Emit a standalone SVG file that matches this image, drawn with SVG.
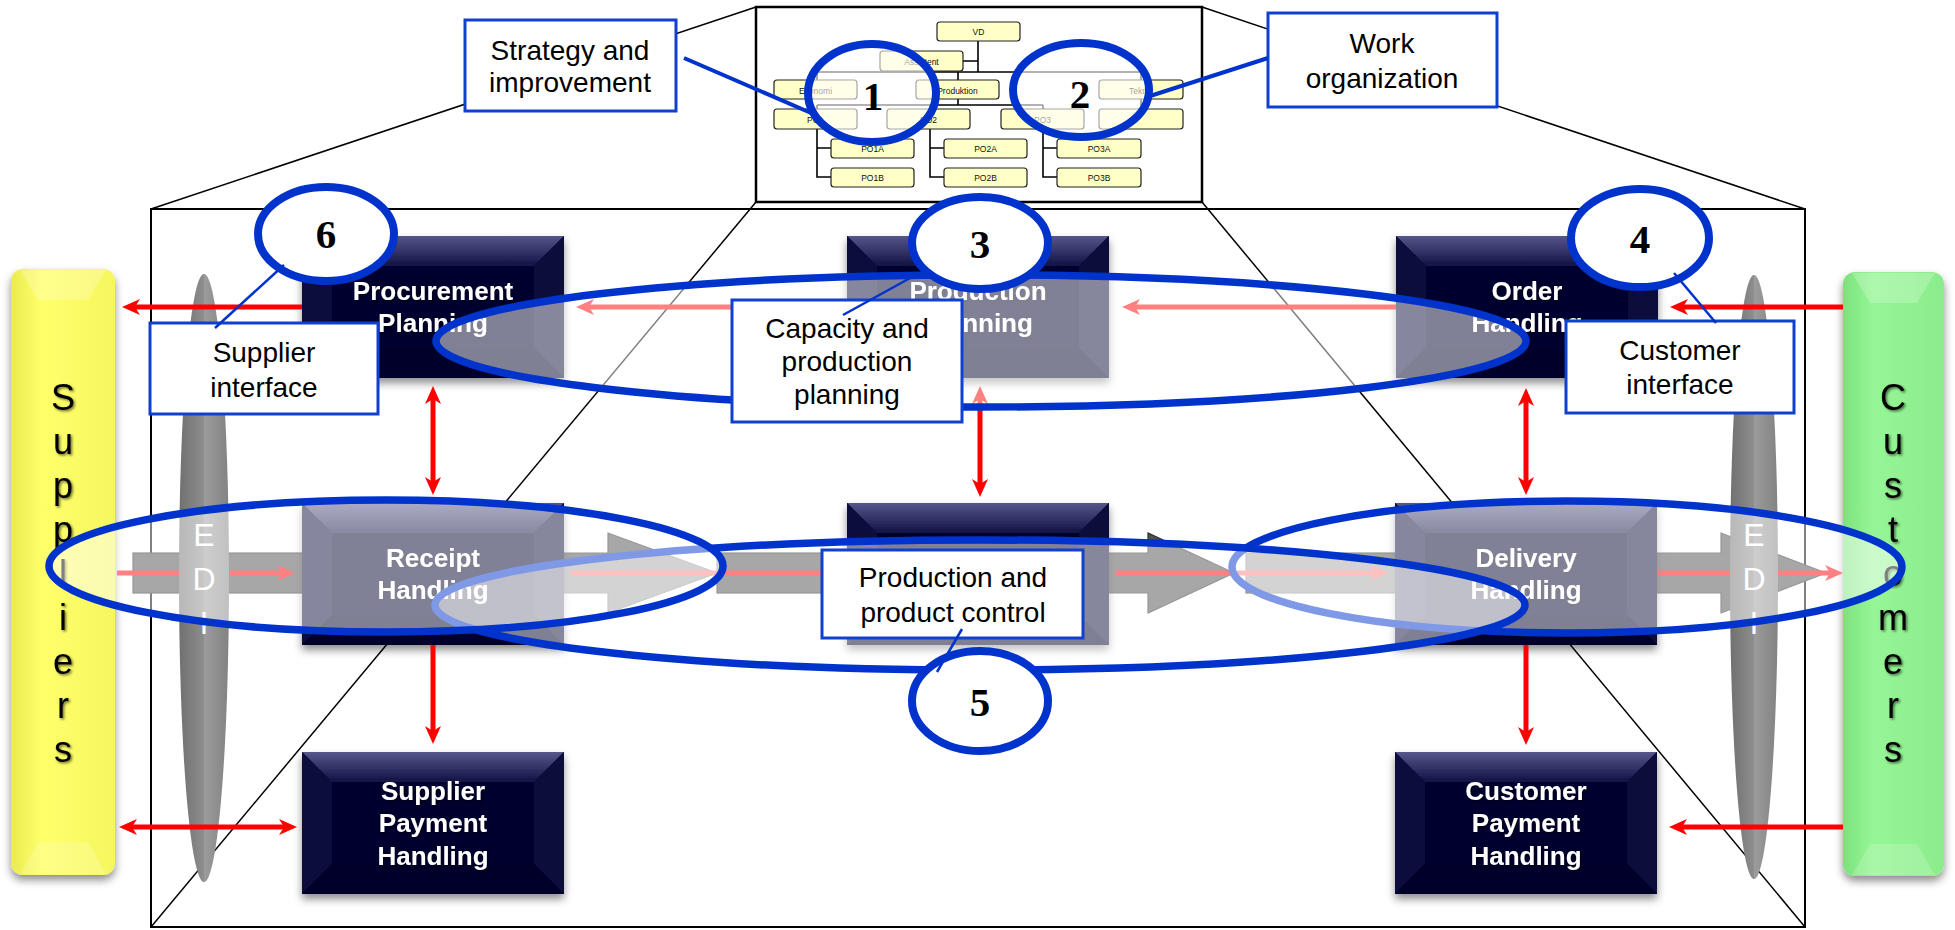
<svg xmlns="http://www.w3.org/2000/svg" width="1955" height="930" viewBox="0 0 1955 930">
<defs>
<style>
.frame{fill:none;stroke:#000;stroke-width:2}
.thin{fill:none;stroke:#000;stroke-width:1.5}
.ob{fill:#FFFFC8;stroke:#222;stroke-width:1.2}
.ot{font-family:'Liberation Sans',Arial,sans-serif;font-size:8.5px;text-anchor:middle;fill:#111}
.ol{fill:none;stroke:#000;stroke-width:1.6}
.pt{font-family:'Liberation Sans',Arial,sans-serif;font-weight:bold;font-size:26px;fill:#fff;text-anchor:middle}
.bar{fill:#4F4F4F;stroke:#2E2E2E;stroke-width:1.2}
.red{fill:none;stroke:#FF0000;stroke-width:5}
.big{fill:#fff;fill-opacity:0.5;stroke:#0033CC;stroke-width:7.5}
.sm{fill:#fff;fill-opacity:0.6;stroke:#0033CC;stroke-width:8}
.num{fill:#fff;stroke:#0033CC;stroke-width:8}
.nt{font-family:'Liberation Serif','Times New Roman',serif;font-weight:bold;font-size:41px;text-anchor:middle;fill:#000}
.cb{fill:#fff;stroke:#1040D0;stroke-width:3}
.ct{font-family:'Liberation Sans',Arial,sans-serif;font-size:28px;text-anchor:middle;fill:#000}
.cl{fill:none;stroke:#0033CC;stroke-width:2.5}
.clb{fill:none;stroke:#0033CC;stroke-width:4}
.vt{font-family:'Liberation Sans',Arial,sans-serif;font-size:36px;text-anchor:middle;fill:#000}
.edi{font-family:'Liberation Sans',Arial,sans-serif;font-size:32px;text-anchor:middle;fill:#fff}
</style>
<linearGradient id="gTop" x1="0" y1="0" x2="0" y2="1">
<stop offset="0" stop-color="#56568C"/>
<stop offset="1" stop-color="#111144"/>
</linearGradient>
<linearGradient id="gYel" x1="0" y1="0" x2="1" y2="0">
<stop offset="0" stop-color="#EAEA50"/>
<stop offset="0.3" stop-color="#FFFF6A"/>
<stop offset="1" stop-color="#F6F660"/>
</linearGradient>
<linearGradient id="gGrn" x1="0" y1="0" x2="1" y2="0">
<stop offset="0" stop-color="#7CE27C"/>
<stop offset="0.3" stop-color="#96F696"/>
<stop offset="1" stop-color="#8AEC8A"/>
</linearGradient>
<linearGradient id="gLens" x1="0" y1="0" x2="1" y2="0">
<stop offset="0" stop-color="#707070"/>
<stop offset="0.5" stop-color="#8E8E8E"/>
<stop offset="0.5" stop-color="#9C9C9C"/>
<stop offset="1" stop-color="#828282"/>
</linearGradient>
<filter id="sh" x="-10%" y="-10%" width="120%" height="130%">
<feDropShadow dx="0" dy="5" stdDeviation="4" flood-color="#000" flood-opacity="0.45"/>
</filter>
<filter id="ts" x="-20%" y="-20%" width="140%" height="140%">
<feDropShadow dx="1.5" dy="1.5" stdDeviation="1" flood-color="#000" flood-opacity="0.55"/>
</filter>
<marker id="ah" markerUnits="userSpaceOnUse" markerWidth="18" markerHeight="16" viewBox="0 0 18 16" refX="11" refY="8" orient="auto-start-reverse">
<path d="M0,0 L18,8 L0,16 L5,8 z" fill="#FF0000"/>
</marker>
<g id="pb">
<rect width="262" height="142" fill="#06062E"/>
<polygon points="0,0 262,0 232,30 30,30" fill="url(#gTop)"/>
<polygon points="0,0 30,30 30,112 0,142" fill="#0B0B3C"/>
<polygon points="262,0 262,142 232,112 232,30" fill="#09093A"/>
<polygon points="0,142 30,112 232,112 262,142" fill="#04042A"/>
</g>
</defs>

<rect width="1955" height="930" fill="#fff"/>

<g id="frame">
<rect x="151" y="209" width="1654" height="718" class="frame"/>
<line x1="151" y1="209" x2="756" y2="7" class="thin"/>
<line x1="1202" y1="7" x2="1805" y2="209" class="thin"/>
<line x1="756" y1="202" x2="151" y2="927" class="thin"/>
<line x1="1202" y1="202" x2="1805" y2="927" class="thin"/>
<rect x="756" y="7" width="446" height="195" fill="#fff" stroke="#000" stroke-width="2.5"/>
</g>

<g id="orgchart">
<path class="ol" d="M978,41V72M963,61H978M817,72H1141M817,72V80M958,72V80M1141,72V80M958,99V105M817,105H1043M817,105V109M930,105V109M1043,105V109M1141,99V109M817,129V177H831M817,148H831M930,129V177H944M930,148H944M1043,129V177H1057M1043,148H1057"/>
<rect class="ob" x="937" y="22" width="83" height="19" rx="3"/><text class="ot" x="978.5" y="35">VD</text>
<rect class="ob" x="880" y="51" width="83" height="20" rx="3"/><text class="ot" x="921.5" y="64.5">Assistent</text>
<rect class="ob" x="774" y="80" width="83" height="19" rx="3"/><text class="ot" x="815.5" y="93.5">Ekonomi</text>
<rect class="ob" x="916" y="80" width="83" height="19" rx="3"/><text class="ot" x="957.5" y="93.5">Produktion</text>
<rect class="ob" x="1099" y="80" width="84" height="19" rx="3"/><text class="ot" x="1141" y="93.5">Teknik</text>
<rect class="ob" x="774" y="109" width="83" height="20" rx="3"/><text class="ot" x="815.5" y="122.5">PO1</text>
<rect class="ob" x="887" y="109" width="83" height="20" rx="3"/><text class="ot" x="928.5" y="122.5">PO2</text>
<rect class="ob" x="1001" y="109" width="83" height="20" rx="3"/><text class="ot" x="1042.5" y="122.5">PO3</text>
<rect class="ob" x="1099" y="109" width="84" height="20" rx="3"/>
<rect class="ob" x="831" y="139" width="83" height="19" rx="3"/><text class="ot" x="872.5" y="152">PO1A</text>
<rect class="ob" x="944" y="139" width="83" height="19" rx="3"/><text class="ot" x="985.5" y="152">PO2A</text>
<rect class="ob" x="1057" y="139" width="84" height="19" rx="3"/><text class="ot" x="1099" y="152">PO3A</text>
<rect class="ob" x="831" y="168" width="83" height="19" rx="3"/><text class="ot" x="872.5" y="181">PO1B</text>
<rect class="ob" x="944" y="168" width="83" height="19" rx="3"/><text class="ot" x="985.5" y="181">PO2B</text>
<rect class="ob" x="1057" y="168" width="84" height="19" rx="3"/><text class="ot" x="1099" y="181">PO3B</text>
</g>

<g id="suppliers">
<rect x="11" y="269" width="104" height="606" rx="12" fill="url(#gYel)" filter="url(#sh)"/>
<polygon points="20,270 106,270 88,300 38,300" fill="#fff" fill-opacity="0.22"/>
<polygon points="38,842 88,842 106,874 20,874" fill="#fff" fill-opacity="0.18"/>
<text class="vt" filter="url(#ts)"><tspan x="63" y="410">S</tspan><tspan x="63" y="454">u</tspan><tspan x="63" y="498">p</tspan><tspan x="63" y="542">p</tspan><tspan x="63" y="586">l</tspan><tspan x="63" y="630">i</tspan><tspan x="63" y="674">e</tspan><tspan x="63" y="718">r</tspan><tspan x="63" y="762">s</tspan></text>
</g>

<g id="customers">
<rect x="1843" y="272" width="101" height="604" rx="12" fill="url(#gGrn)" filter="url(#sh)"/>
<polygon points="1852,273 1935,273 1917,303 1870,303" fill="#fff" fill-opacity="0.22"/>
<polygon points="1870,844 1917,844 1935,875 1852,875" fill="#fff" fill-opacity="0.18"/>
<text class="vt" filter="url(#ts)"><tspan x="1893" y="410">C</tspan><tspan x="1893" y="454">u</tspan><tspan x="1893" y="498">s</tspan><tspan x="1893" y="542">t</tspan><tspan x="1893" y="586">o</tspan><tspan x="1893" y="630">m</tspan><tspan x="1893" y="674">e</tspan><tspan x="1893" y="718">r</tspan><tspan x="1893" y="762">s</tspan></text>
</g>

<g id="flow">
<rect class="bar" x="133" y="553" width="175" height="40"/>
<polygon class="bar" points="560,553 608,553 608,533 717,573 608,613 608,593 560,593"/>
<rect class="bar" x="717" y="553" width="135" height="40"/>
<polygon class="bar" points="1105,553 1148,553 1148,533 1234,573 1148,613 1148,593 1105,593"/>
<rect class="bar" x="1246" y="553" width="154" height="40"/>
<polygon class="bar" points="1652,553 1721,553 1721,533 1826,573 1721,613 1721,593 1652,593"/>
<line class="red" x1="117" y1="573" x2="288" y2="573" marker-end="url(#ah)"/>
<line class="red" x1="571" y1="573" x2="833" y2="573" marker-end="url(#ah)"/>
<line class="red" x1="1116" y1="573" x2="1381" y2="573" marker-end="url(#ah)"/>
<line class="red" x1="1657" y1="573" x2="1836" y2="573" marker-end="url(#ah)"/>
</g>

<g id="edi-left">
<ellipse cx="204" cy="578" rx="25" ry="304" fill="url(#gLens)"/>
<text class="edi"><tspan x="204" y="546">E</tspan><tspan x="204" y="590">D</tspan><tspan x="204" y="634">I</tspan></text>
</g>
<g id="edi-right">
<ellipse cx="1754" cy="577" rx="24" ry="302" fill="url(#gLens)"/>
<text class="edi"><tspan x="1754" y="546">E</tspan><tspan x="1754" y="590">D</tspan><tspan x="1754" y="634">I</tspan></text>
</g>

<g id="procurement-planning">
<use href="#pb" x="302" y="236" filter="url(#sh)"/>
<text class="pt" filter="url(#ts)"><tspan x="433" y="300">Procurement</tspan><tspan x="433" y="332">Planning</tspan></text>
</g>
<g id="production-planning">
<use href="#pb" x="847" y="236" filter="url(#sh)"/>
<text class="pt" filter="url(#ts)"><tspan x="978" y="300">Production</tspan><tspan x="978" y="332">Planning</tspan></text>
</g>
<g id="order-handling">
<use href="#pb" x="1396" y="236" filter="url(#sh)"/>
<text class="pt" filter="url(#ts)"><tspan x="1527" y="300">Order</tspan><tspan x="1527" y="332">Handling</tspan></text>
</g>
<g id="receipt-handling">
<use href="#pb" x="302" y="503" filter="url(#sh)"/>
<text class="pt" filter="url(#ts)"><tspan x="433" y="567">Receipt</tspan><tspan x="433" y="599">Handling</tspan></text>
</g>
<g id="production-handling">
<use href="#pb" x="847" y="503" filter="url(#sh)"/>
</g>
<g id="delivery-handling">
<use href="#pb" x="1395" y="503" filter="url(#sh)"/>
<text class="pt" filter="url(#ts)"><tspan x="1526" y="567">Delivery</tspan><tspan x="1526" y="599">Handling</tspan></text>
</g>
<g id="supplier-payment-handling">
<use href="#pb" x="302" y="752" filter="url(#sh)"/>
<text class="pt" filter="url(#ts)"><tspan x="433" y="800">Supplier</tspan><tspan x="433" y="832">Payment</tspan><tspan x="433" y="865">Handling</tspan></text>
</g>
<g id="customer-payment-handling">
<use href="#pb" x="1395" y="752" filter="url(#sh)"/>
<text class="pt" filter="url(#ts)"><tspan x="1526" y="800">Customer</tspan><tspan x="1526" y="832">Payment</tspan><tspan x="1526" y="865">Handling</tspan></text>
</g>

<g id="connectors">
<line class="red" x1="302" y1="307" x2="129" y2="307" marker-end="url(#ah)"/>
<line class="red" x1="433" y1="393" x2="433" y2="488" marker-start="url(#ah)" marker-end="url(#ah)"/>
<line class="red" x1="433" y1="645" x2="433" y2="737" marker-end="url(#ah)"/>
<line class="red" x1="126" y1="827" x2="290" y2="827" marker-start="url(#ah)" marker-end="url(#ah)"/>
<line class="red" x1="847" y1="307" x2="583" y2="307" marker-end="url(#ah)"/>
<line class="red" x1="1396" y1="307" x2="1129" y2="307" marker-end="url(#ah)"/>
<line class="red" x1="980" y1="393" x2="980" y2="490" marker-start="url(#ah)" marker-end="url(#ah)"/>
<line class="red" x1="1843" y1="307" x2="1677" y2="307" marker-end="url(#ah)"/>
<line class="red" x1="1526" y1="395" x2="1526" y2="488" marker-start="url(#ah)" marker-end="url(#ah)"/>
<line class="red" x1="1526" y1="645" x2="1526" y2="738" marker-end="url(#ah)"/>
<line class="red" x1="1843" y1="827" x2="1676" y2="827" marker-end="url(#ah)"/>
</g>

<g id="focus-areas">
<ellipse class="big" cx="1567" cy="567" rx="335" ry="66"/>
<ellipse class="big" cx="980" cy="605" rx="545" ry="65"/>
<ellipse class="big" cx="386" cy="566" rx="337" ry="66"/>
<ellipse class="big" cx="981" cy="341" rx="545" ry="66"/>
<ellipse class="sm" cx="872" cy="93" rx="64" ry="49"/>
<ellipse class="sm" cx="1081" cy="90" rx="68" ry="47"/>
<text class="nt" x="873" y="110">1</text>
<text class="nt" x="1080" y="108">2</text>
</g>

<g id="callout-strategy">
<rect class="cb" x="465" y="20" width="211" height="91"/>
<text class="ct"><tspan x="570" y="60">Strategy and</tspan><tspan x="570" y="92">improvement</tspan></text>
</g>
<g id="callout-work">
<rect class="cb" x="1268" y="13" width="229" height="94"/>
<text class="ct"><tspan x="1382" y="53">Work</tspan><tspan x="1382" y="88">organization</tspan></text>
</g>
<g id="callout-supplier">
<rect class="cb" x="150" y="323" width="228" height="91"/>
<text class="ct"><tspan x="264" y="362">Supplier</tspan><tspan x="264" y="397">interface</tspan></text>
</g>
<g id="callout-capacity">
<rect class="cb" x="732" y="300" width="230" height="122"/>
<text class="ct"><tspan x="847" y="338">Capacity and</tspan><tspan x="847" y="371">production</tspan><tspan x="847" y="404">planning</tspan></text>
</g>
<g id="callout-customer">
<rect class="cb" x="1566" y="321" width="228" height="92"/>
<text class="ct"><tspan x="1680" y="360">Customer</tspan><tspan x="1680" y="394">interface</tspan></text>
</g>
<g id="callout-production">
<rect class="cb" x="822" y="550" width="261" height="88"/>
<text class="ct"><tspan x="953" y="587">Production and</tspan><tspan x="953" y="622">product control</tspan></text>
</g>

<g id="marker-6"><ellipse class="num" cx="326" cy="234" rx="68" ry="47"/><text class="nt" x="326" y="248">6</text></g>
<g id="marker-3"><ellipse class="num" cx="980" cy="243" rx="68" ry="46"/><text class="nt" x="980" y="258">3</text></g>
<g id="marker-4"><ellipse class="num" cx="1640" cy="238" rx="69" ry="49"/><text class="nt" x="1640" y="253">4</text></g>
<g id="marker-5"><ellipse class="num" cx="980" cy="701" rx="68" ry="50"/><text class="nt" x="980" y="716">5</text></g>

<g id="callout-lines">
<line class="clb" x1="684" y1="58" x2="818" y2="116"/>
<line class="clb" x1="1268" y1="58" x2="1147" y2="97"/>
<line class="cl" x1="215" y1="328" x2="284" y2="265"/>
<line class="cl" x1="843" y1="315" x2="912" y2="277"/>
<line class="cl" x1="1716" y1="323" x2="1674" y2="273"/>
<line class="cl" x1="962" y1="629" x2="937" y2="672"/>
</g>
</svg>
